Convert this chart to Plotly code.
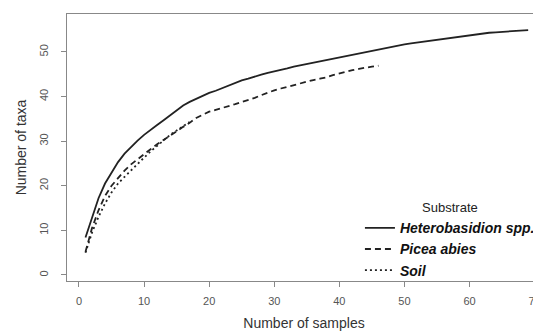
import plotly.graph_objects as go

# Data
hetero_x = list(range(1, 70))
hetero_y = [8.4, 13.0, 17.2, 20.5, 23.0, 25.3, 27.2, 28.7, 30.1, 31.4,
            32.6, 33.6, 34.7, 35.8, 36.9, 38.0, 38.8, 39.5, 40.2, 40.8,
            41.3, 41.9, 42.5, 43.1, 43.6, 44.0, 44.5, 44.9, 45.3, 45.6,
            46.0, 46.3, 46.7, 47.0, 47.3, 47.6, 47.9, 48.1, 48.4, 48.7,
            49.0, 49.4, 49.7, 50.0, 50.3, 50.6, 50.9, 51.2, 51.4, 51.7,
            51.9, 52.1, 52.3, 52.5, 52.7, 52.9, 53.1, 53.4, 53.6, 53.8,
            54.0, 54.2, 54.3, 54.4, 54.5, 54.7, 54.8, 54.9, 54.9]

picea_x = list(range(1, 47))
picea_y = [5.2, 10.5, 14.5, 17.7, 20.0, 21.8, 23.4, 24.8, 26.0, 27.2,
           28.2, 29.3, 30.3, 31.3, 32.3, 33.2, 34.1, 35.2, 35.9, 36.6,
           37.0, 37.4, 37.8, 38.3, 38.8, 39.2, 39.7, 40.3, 40.9, 41.4,
           41.8, 42.2, 42.6, 43.0, 43.4, 43.7, 44.0, 44.3, 44.8, 45.2,
           45.6, 45.9, 46.2, 46.5, 46.7, 46.9]

soil_x = list(range(1, 18))
soil_y = [5.0, 9.5, 13.0, 16.0, 18.5, 20.5, 22.0, 23.5, 25.0, 26.3,
          27.7, 29.0, 30.3, 31.4, 32.4, 33.3, 34.3]

x_ticks = [0, 10, 20, 30, 40, 50, 60, 70]
y_ticks = [0, 10, 20, 30, 40, 50]

FONT = "Arial, Liberation Sans, sans-serif"
LINE = "#222222"

fig = go.Figure()
fig.add_trace(go.Scatter(x=hetero_x, y=hetero_y, mode="lines",
                         name="<b><i>Heterobasidion spp.</i></b>",
                         line=dict(color=LINE, width=1.8, dash="solid")))
fig.add_trace(go.Scatter(x=picea_x, y=picea_y, mode="lines",
                         name="<b><i>Picea abies</i></b>",
                         line=dict(color=LINE, width=1.8, dash="6px,4px")))
fig.add_trace(go.Scatter(x=soil_x, y=soil_y, mode="lines",
                         name="<b><i>Soil</i></b>",
                         line=dict(color=LINE, width=1.8, dash="2px,3px")))

axis_common = dict(
    showgrid=False, zeroline=False, automargin=False,
    showline=True, linecolor="#888888", linewidth=1,
    ticks="outside", ticklen=5, tickcolor="#888888", tickwidth=1,
    ticklabeloverflow="allow",
    tickfont=dict(family=FONT, size=11, color="#555555"),
)

fig.update_xaxes(range=[-1.84, 70.97], tickvals=x_ticks, mirror=True,
                 ticklabelstandoff=5,
                 title=dict(text="Number of samples", standoff=11,
                            font=dict(family=FONT, size=14, color="#333333")),
                 **axis_common)
fig.update_yaxes(range=[-1.35, 58.5], tickvals=y_ticks, mirror=False, tickangle=-90,
                 ticklabelstandoff=9,
                 title=dict(text="Number of taxa", standoff=7,
                            font=dict(family=FONT, size=14, color="#333333")),
                 **axis_common)

# the page body adds an 8px margin, so the figure is sized to fill the window
fig.update_layout(
    template="none",
    width=533, height=325,
    margin=dict(l=59, r=0, t=6, b=52, pad=0),
    paper_bgcolor="white", plot_bgcolor="white",
    font=dict(family=FONT),
    showlegend=True,
    legend=dict(
        x=0.618, y=0.321, xanchor="left", yanchor="top",
        bgcolor="rgba(0,0,0,0)", borderwidth=0,
        font=dict(family=FONT, size=14, color="#111111"),
        title=dict(text="Substrate", side="top center",
                   font=dict(family=FONT, size=13, color="#222222")),
        tracegroupgap=0,
    ),
)

fig.write_html("out.html")
